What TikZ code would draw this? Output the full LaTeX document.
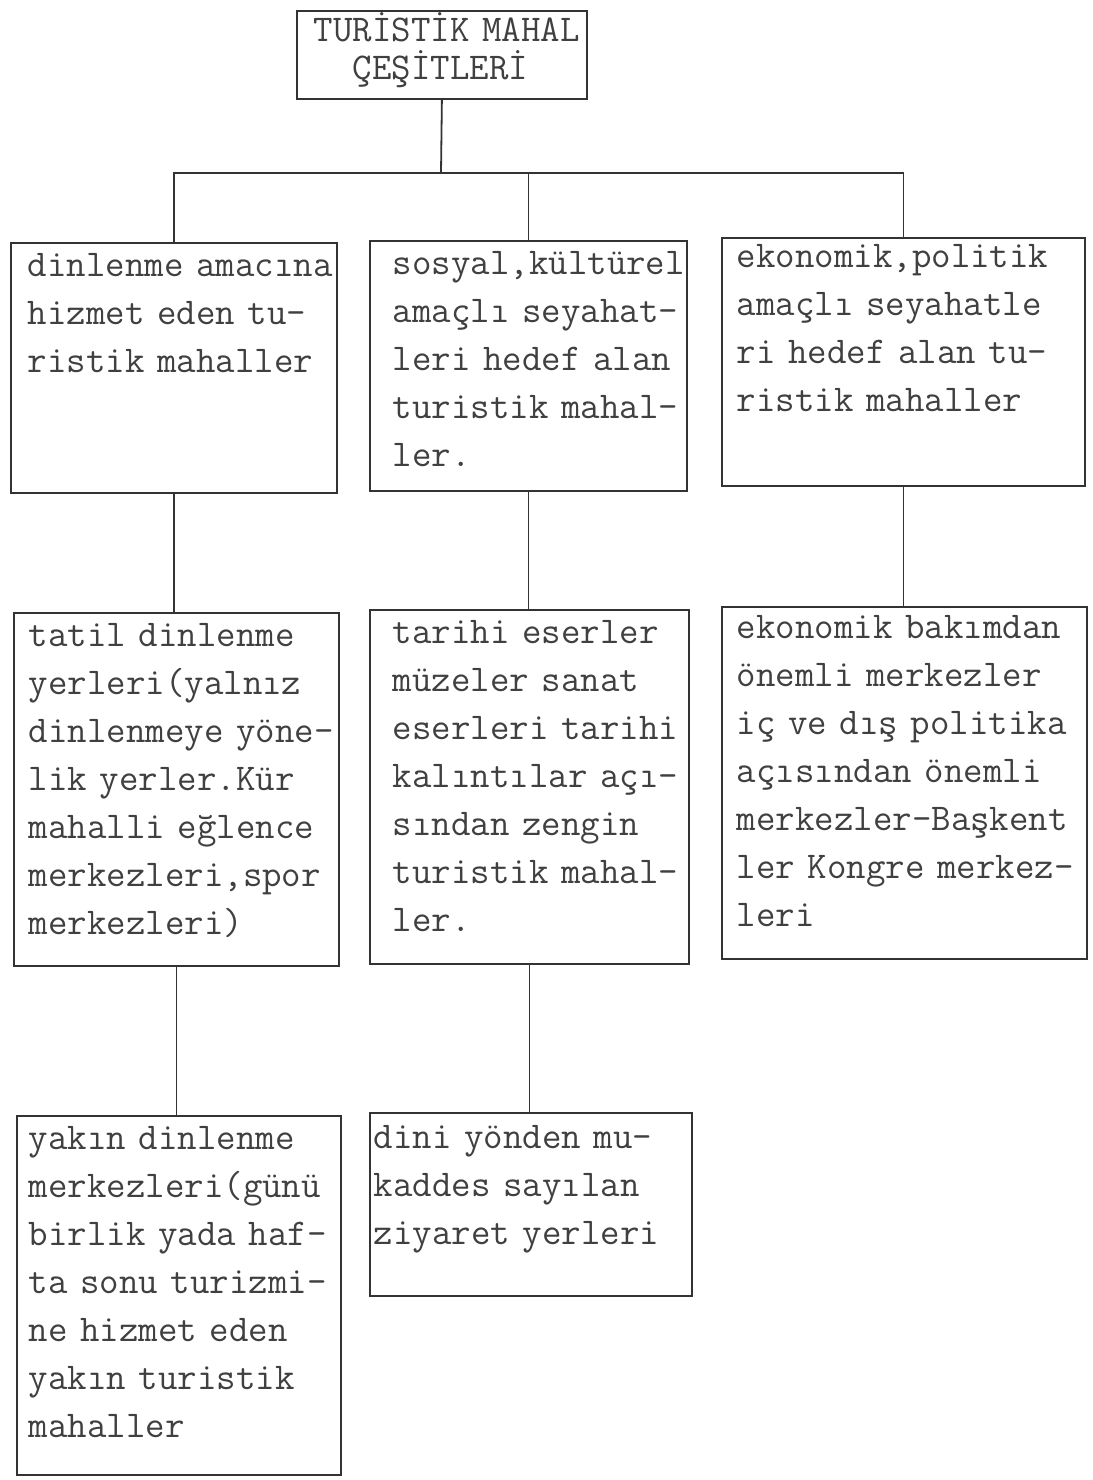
\documentclass[tikz,border=0pt]{standalone}
\usepackage{tikz}
\newcommand{\bodyfont}{\ttfamily\fontsize{18.9}{24}\selectfont}
\newcommand{\headfont}{\ttfamily\fontsize{18.9}{13.5}\selectfont}
\newcommand{\boxlines}[1]{\begin{tabular}[t]{@{}l@{}}#1\end{tabular}}
\tikzset{
  box/.style={draw=black!80, line width=0.9pt, rectangle, anchor=north west, inner ysep=0pt, align=left, text=black!75, font=\bodyfont},
  headbox/.style={box, font=\headfont},
  link/.style={draw=black!80, line width=0.9pt},
}

\begin{document}
\begin{tikzpicture}[x=0.5pt, y=-0.5pt]
  \useasboundingbox (0,0) rectangle (1093,1480);

  \node[headbox, inner xsep=8.5pt, text width=128pt, text height=15.5pt, text depth=28.5pt] (top) at (296,10) {\boxlines{TURİSTİK MAHAL\\[0pt] \hphantom{TU}ÇEŞİTLERİ}};

  % first row
  \node[box, inner xsep=8.5pt, text width=146pt, text height=17pt, text depth=108pt] (A) at (10,242) {\boxlines{dinlenme amacına\\ hizmet eden tu-\\ ristik mahaller}};
  \node[box, inner xsep=11.5pt, text width=135.5pt, text height=17pt, text depth=108pt] (B) at (369,240) {\boxlines{sosyal,kültürel\\ amaçlı seyahat-\\ leri hedef alan\\ turistik mahal-\\ ler.}};
  \node[box, inner xsep=7.5pt, text width=166.5pt, text height=15pt, text depth=109pt] (C) at (721,237) {\boxlines{ekonomik,politik\\ amaçlı seyahatle\\ ri hedef alan tu-\\ ristik mahaller}};

  % second row
  \node[box, inner xsep=7.5pt, text width=147.5pt, text height=17pt, text depth=159.5pt] (D) at (13,612) {\boxlines{tatil dinlenme\\ yerleri(yalnız\\ dinlenmeye yöne-\\ lik yerler.Kür\\ mahalli eğlence\\ merkezleri,spor\\ merkezleri)}};
  \node[box, inner xsep=11.5pt, text width=136.5pt, text height=17pt, text depth=160pt] (E) at (369,609) {\boxlines{tarihi eserler\\ müzeler sanat\\ eserleri tarihi\\ kalıntılar açı-\\ sından zengin\\ turistik mahal-\\ ler.}};
  \node[box, inner xsep=7.5pt, text width=167.5pt, text height=16pt, text depth=160pt] (F) at (721,606) {\boxlines{ekonomik bakımdan\\ önemli merkezler\\ iç ve dış politika\\ açısından önemli\\ merkezler-Başkent\\ ler Kongre merkez-\\ leri}};

  % third row
  \node[box, inner xsep=6pt, text width=150pt, text height=17pt, text depth=162.5pt] (G) at (16,1115) {\boxlines{yakın dinlenme\\ merkezleri(günü\\ birlik yada haf-\\ ta sonu turizmi-\\ ne hizmet eden\\ yakın turistik\\ mahaller}};
  \node[box, inner xsep=2pt, text width=157pt, text height=18pt, text depth=73.5pt] (H) at (369,1112) {\boxlines{dini yönden mu-\\ kaddes sayılan\\ ziyaret yerleri}};

  % tree lines
  \coordinate (bar) at (441,173);
  \draw[link] (top.south) -- (bar);
  \draw[link] (A.north) |- (bar) -| (C.north);
  \draw[link] (B.north) -- (B.north |- bar);
  \draw[link] (A.south) -- (A.south |- D.north);
  \draw[link] (B.south) -- (B.south |- E.north);
  \draw[link] (C.south) -- (C.south |- F.north);
  \draw[link] (D.south) -- (D.south |- G.north);
  \draw[link] (E.south) -- (E.south |- H.north);
\end{tikzpicture}
\end{document}
